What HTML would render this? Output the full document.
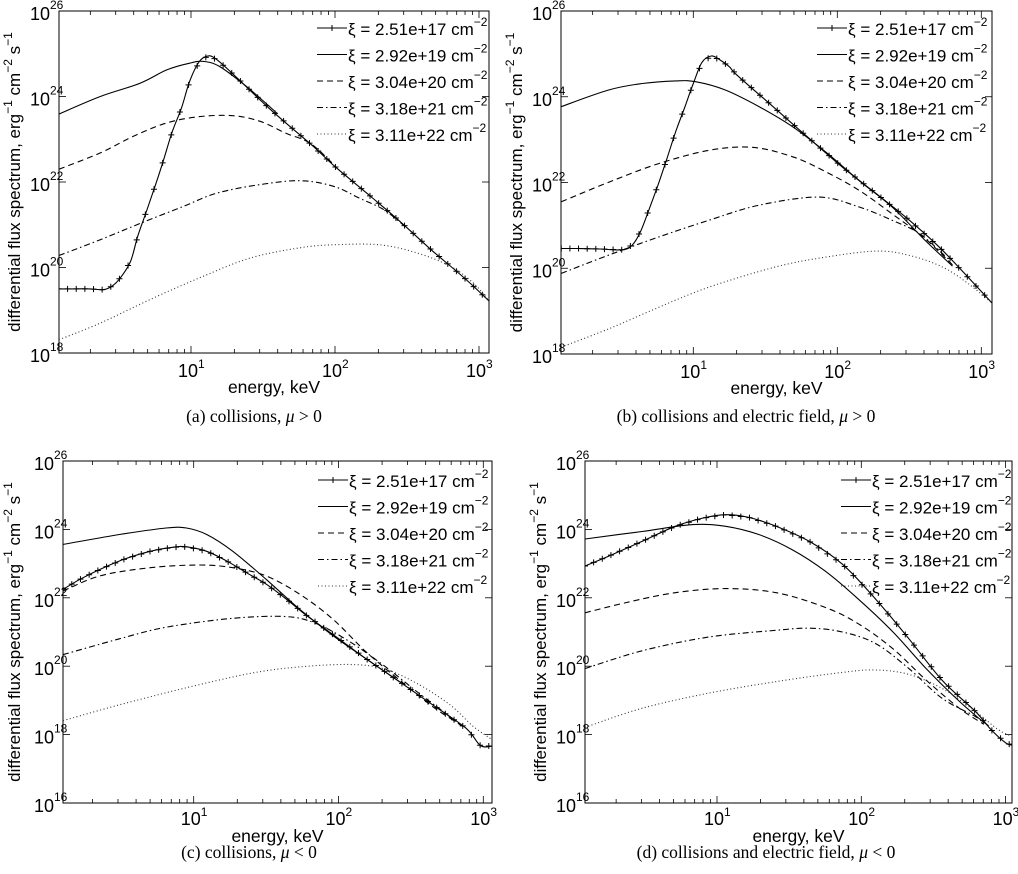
<!DOCTYPE html>
<html><head><meta charset="utf-8"><style>
html,body{margin:0;padding:0;background:#fff;}
svg{display:block;font-family:"Liberation Sans",sans-serif;}
.cap{font-family:"Liberation Serif",serif;font-size:17.5px;}
</style></head><body>
<svg id="fig" width="1018" height="874" viewBox="0 0 1018 874" xmlns="http://www.w3.org/2000/svg"></svg>
<script>
// ---- data: log10(energy keV) and log10(flux) ----
const legendLabels = ["2.51e+17","2.92e+19","3.04e+20","3.18e+21","3.11e+22"];
const xTickExps = [1,2,3];
const yTickExpsTop = [18,20,22,24,26];
const yTickExpsBottom = [16,18,20,22,24,26];
const captions = ["(a) collisions, ","(b) collisions and electric field, ","(c) collisions, ","(d) collisions and electric field, "];
const captionSigns = ["> 0","> 0","< 0","< 0"];

// panel a
const a1E=[0.083,0.2,0.3,0.39,0.45,0.51,0.58,0.63,0.69,0.75,0.81,0.87,0.935,0.99,1.058,1.12,1.18,1.3,1.55,1.85,2.0,2.22,2.45,2.68,2.91,3.077];
const a1F=[19.5,19.5,19.5,19.48,19.56,19.76,20.14,20.73,21.31,21.9,22.52,23.18,23.74,24.35,24.82,24.95,24.86,24.5,23.7,22.83,22.36,21.74,21.08,20.38,19.72,19.19];
const a2E=[0.083,0.37,0.646,0.83,0.99,1.086,1.2,1.39,1.6];
const a2F=[23.59,24.0,24.31,24.62,24.78,24.82,24.7,24.22,23.6];
const a3E=[0.083,0.37,0.6,0.83,1.06,1.29,1.48,1.66,1.83,2.0];
const a3F=[22.3,22.68,23.07,23.38,23.53,23.55,23.42,23.14,22.9,22.38];
const a4E=[0.083,0.37,0.646,0.947,1.18,1.48,1.76,1.99,2.17,2.34,2.5];
const a4F=[20.28,20.65,21.03,21.43,21.74,21.94,22.03,21.9,21.62,21.35,20.92];
const a5E=[0.083,0.37,0.715,1.06,1.41,1.757,1.99,2.31,2.57,2.8,2.96,3.077];
const a5F=[18.31,18.7,19.25,19.76,20.22,20.46,20.53,20.53,20.34,20.03,19.64,19.19];
// panel b
const b1E=[0.083,0.2,0.35,0.507,0.576,0.634,0.69,0.755,0.815,0.877,0.94,1.0,1.06,1.125,1.185,1.25,1.305,1.55,1.79,2.035,2.27,2.5,2.73,3.074];
const b1F=[20.46,20.46,20.45,20.43,20.54,20.86,21.35,21.94,22.54,23.18,23.75,24.31,24.8,24.95,24.86,24.7,24.5,23.78,23.07,22.36,21.74,21.12,20.42,19.19];
const b2E=[0.083,0.415,0.646,0.877,1.016,1.22,1.456,1.69,1.92,2.15,2.38,2.61,2.8];
const b2F=[23.77,24.16,24.31,24.37,24.35,24.16,23.77,23.3,22.71,22.05,21.43,20.65,20.05];
const b3E=[0.083,0.415,0.76,1.11,1.41,1.69,1.92,2.15,2.38,2.61,2.8];
const b3F=[21.55,22.01,22.44,22.75,22.82,22.6,22.25,21.82,21.27,20.69,20.08];
const b4E=[0.083,0.415,0.76,1.11,1.456,1.87,2.15,2.38,2.57,2.75];
const b4F=[19.88,20.31,20.73,21.12,21.47,21.66,21.43,21.12,20.81,20.28];
const b5E=[0.083,0.415,0.76,1.11,1.57,1.92,2.27,2.5,2.73,2.91,3.074];
const b5F=[18.16,18.59,19.09,19.56,20.03,20.26,20.4,20.3,20.03,19.64,19.19];
// panel c
const c1E=[0.098,0.215,0.353,0.514,0.7,0.86,0.95,1.09,1.23,1.366,1.5,1.64,1.78,1.97,2.19,2.42,2.65,2.88,2.98,3.058];
const c1F=[22.25,22.54,22.83,23.12,23.36,23.48,23.49,23.36,23.07,22.73,22.4,21.96,21.48,20.9,20.22,19.55,18.87,18.19,17.68,17.66];
const c2E=[0.098,0.487,0.81,0.95,1.09,1.27,1.5,1.73,1.96,2.19,2.42];
const c2F=[23.56,23.85,24.04,24.04,23.85,23.36,22.54,21.67,20.9,20.22,19.55];
const c3E=[0.098,0.353,0.7,1.04,1.27,1.5,1.73,1.96,2.19,2.42,2.65,2.8];
const c3F=[22.2,22.64,22.88,22.96,22.88,22.64,22.11,21.38,20.42,19.6,18.82,18.4];
const c4E=[0.098,0.487,0.81,1.27,1.64,1.85,2.08,2.31,2.54,2.72,2.85];
const c4F=[20.34,20.8,21.14,21.4,21.45,21.24,20.71,20.03,19.26,18.68,18.25];
const c5E=[0.098,0.487,0.93,1.39,1.73,2.08,2.31,2.54,2.77,2.93,3.058];
const c5F=[18.41,18.87,19.35,19.79,19.98,20.05,19.93,19.5,18.87,18.24,17.86];
// panel d
const d1E=[0.085,0.25,0.48,0.71,0.9,1.06,1.22,1.41,1.64,1.87,2.1,2.33,2.56,2.79,2.9,3.0,3.046];
const d1F=[22.93,23.22,23.65,24.09,24.33,24.43,24.35,24.09,23.65,22.98,21.96,20.8,19.59,18.68,18.14,17.76,17.69];
const d2E=[0.085,0.48,0.83,1.06,1.29,1.52,1.75,1.98,2.22,2.45,2.68,2.85];
const d2F=[23.72,23.94,24.14,24.09,23.85,23.41,22.78,21.96,21.0,19.93,18.97,18.35];
const d3E=[0.085,0.37,0.71,1.06,1.41,1.75,1.98,2.22,2.45,2.68,2.85];
const d3F=[21.56,21.86,22.15,22.27,22.15,21.72,21.24,20.51,19.59,18.77,18.3];
const d4E=[0.085,0.48,0.94,1.41,1.64,1.87,2.1,2.33,2.56,2.79,2.9];
const d4F=[19.93,20.45,20.85,21.05,21.11,21.0,20.66,19.93,19.06,18.53,18.2];
const d5E=[0.085,0.48,0.94,1.41,1.87,2.1,2.33,2.56,2.79,2.95,3.046];
const d5F=[18.21,18.77,19.21,19.55,19.82,19.89,19.76,19.35,18.68,18.14,17.95];

const NS="http://www.w3.org/2000/svg";
const svg=document.getElementById('fig');
function mk(tag,attrs,parent){const e=document.createElementNS(NS,tag);for(const k in attrs)e.setAttribute(k,attrs[k]);(parent||svg).appendChild(e);return e;}
const dashes=["","","6,4","6,3,1.5,3","1,2.5"];
const strokes=["#000","#000","#000","#000","#333"];

function smoothPath(pts){
  let d="M"+pts[0][0].toFixed(1)+","+pts[0][1].toFixed(1);
  for(let i=0;i<pts.length-1;i++){
    const p0=pts[Math.max(0,i-1)],p1=pts[i],p2=pts[i+1],p3=pts[Math.min(pts.length-1,i+2)];
    const c1=[p1[0]+(p2[0]-p0[0])/6,p1[1]+(p2[1]-p0[1])/6];
    const c2=[p2[0]-(p3[0]-p1[0])/6,p2[1]-(p3[1]-p1[1])/6];
    d+=" C"+c1[0].toFixed(1)+","+c1[1].toFixed(1)+" "+c2[0].toFixed(1)+","+c2[1].toFixed(1)+" "+p2[0].toFixed(1)+","+p2[1].toFixed(1);
  }
  return d;
}
function interp(E,F,x){
  for(let i=0;i<E.length-1;i++){if(x>=E[i]&&x<=E[i+1]){const t=(x-E[i])/(E[i+1]-E[i]);return F[i]+t*(F[i+1]-F[i]);}}
  return F[F.length-1];
}

function panel(id,cfg,series){
  const g=mk('g',{},svg);
  
  
  const X=l=>cfg.x10+(l-1)*cfg.pxDec;
  const Y=v=>cfg.bottom-(v-cfg.ymin)/(cfg.ymax-cfg.ymin)*(cfg.bottom-cfg.top);
  const W=cfg.right-cfg.left,H=cfg.bottom-cfg.top;
  const cp=mk('clipPath',{id:'clip'+id},g);
  mk('rect',{x:cfg.left,y:cfg.top,width:W,height:H},cp);
  for(let dec=0;dec<=3;dec++){for(let m=1;m<10;m++){
    const l=dec+Math.log10(m);const x=X(l);
    if(x<cfg.left-0.5||x>cfg.right+0.5)continue;
    const len=(m===1)?7:4;
    const t1=mk('line',{x1:x,x2:x,y1:cfg.bottom,y2:cfg.bottom-len,stroke:'#000','stroke-width':0.8},g);
    
    
    const t2=mk('line',{x1:x,x2:x,y1:cfg.top,y2:cfg.top+len,stroke:'#000','stroke-width':0.8},g);
    
    
  }}
  xTickExps.forEach(e=>{
    const x=X(e);
    const t=mk('text',{x:x-13,y:cfg.bottom+cfg.tickDy,'font-size':18},g);
    
    
    t.textContent='10';
    const s=mk('tspan',{dy:-9,'font-size':12},t);s.textContent=String(e);
  });
  cfg.yTicks.forEach(e=>{
    const y=Y(e);
    const a=mk('line',{x1:cfg.left,x2:cfg.left+7,y1:y,y2:y,stroke:'#000','stroke-width':0.8},g);
    
    
    const b=mk('line',{x1:cfg.right,x2:cfg.right-7,y1:y,y2:y,stroke:'#000','stroke-width':0.8},g);
    
    
    const t=mk('text',{x:cfg.left-9,y:y+9,'text-anchor':'end','font-size':18},g);
    
    
    t.textContent='10';
    const s=mk('text',{x:cfg.left-9,y:y-2,'font-size':12},g);
    
    
    s.textContent=String(e);
  });
  const fr=mk('rect',{x:cfg.left,y:cfg.top,width:W,height:H,fill:'none',stroke:'#000','stroke-width':1},g);
  
  
  const cg=mk('g',{'clip-path':'url(#clip'+id+')'},g);
  series.forEach((s,i)=>{
    const pts=s[0].map((l,k)=>[X(l),Y(s[1][k])]);
    const p=mk('path',{d:smoothPath(pts),fill:'none',stroke:strokes[i],'stroke-width':1.1,'stroke-dasharray':dashes[i]},cg);
    
    
    if(i===0){
      const E=s[0],F=s[1];
      for(let l=E[0];l<=E[E.length-1]+1e-6;l+=0.06){
        const x=X(l),y=Y(interp(E,F,l));
        const m=mk('path',{d:`M${x-3},${y}H${x+3}M${x},${y-3}V${y+3}`,stroke:'#000','stroke-width':1},cg);
        
        
      }
    }
  });
  legendLabels.forEach((lab,i)=>{
    const ly=cfg.legY+i*cfg.legDy;const lx=cfg.right-cfg.legR;
    const ln=mk('line',{x1:lx-30,x2:lx,y1:ly,y2:ly,stroke:strokes[i],'stroke-width':1.1,'stroke-dasharray':dashes[i]},g);
    
    
    if(i===0){const m=mk('path',{d:`M${lx-18},${ly}h6M${lx-15},${ly-3}v6`,stroke:'#000'},g);
      
      }
    const t=mk('text',{x:lx+1,y:ly+7,'font-size':17},g);
    
    
    t.textContent='ξ = '+lab+' cm';
    const s=mk('tspan',{dy:-9,'font-size':12},t);s.textContent='−2';
  });
  const xt=mk('text',{x:(cfg.left+cfg.right)/2,y:cfg.bottom+cfg.titleDy,'text-anchor':'middle','font-size':17.5},g);
  
  
  xt.textContent='energy, keV';
  const cy=(cfg.top+cfg.bottom)/2;
  const yt=mk('text',{x:0,y:0,'text-anchor':'middle','font-size':17,transform:`translate(${cfg.ylabX},${cy}) rotate(-90)`},g);
  
  
  yt.textContent='differential flux spectrum, erg';
  [['−1',' cm'],['−2',' s'],['−1','']].forEach(p=>{const a=mk('tspan',{dy:-8,'font-size':12},yt);a.textContent=p[0];
    if(p[1]){const b=mk('tspan',{dy:8},yt);b.textContent=p[1];}});
  const c=mk('text',{x:cfg.capX,y:cfg.capY,'text-anchor':'middle',class:'cap'},g);
  
  
  c.textContent=captions[cfg.idx];
  const mu=mk('tspan',{'font-style':'italic'},c);mu.textContent='μ';
  const r=mk('tspan',{},c);r.textContent=' '+captionSigns[cfg.idx];
}

panel('a',{idx:0,left:59,right:489,top:11,bottom:353,ymin:18,ymax:26,x10:191,pxDec:144,yTicks:yTickExpsTop,legY:28,legDy:26.5,legR:142,ylabX:20,capX:254,capY:422,tickDy:24,titleDy:40},
  [[a1E,a1F],[a2E,a2F],[a3E,a3F],[a4E,a4F],[a5E,a5F]]);
panel('b',{idx:1,left:561,right:992,top:11,bottom:354,ymin:18,ymax:26,x10:693.3,pxDec:144,yTicks:yTickExpsTop,legY:28,legDy:26.5,legR:145,ylabX:522,capX:746,capY:422,tickDy:24,titleDy:40},
  [[b1E,b1F],[b2E,b2F],[b3E,b3F],[b4E,b4F],[b5E,b5F]]);
panel('c',{idx:2,left:63,right:492,top:461,bottom:803,ymin:16,ymax:26,x10:193.7,pxDec:144.8,yTicks:yTickExpsBottom,legY:480,legDy:26.5,legR:144,ylabX:20,capX:249,capY:858,tickDy:22,titleDy:39},
  [[c1E,c1F],[c2E,c2F],[c3E,c3F],[c4E,c4F],[c5E,c5F]]);
panel('d',{idx:3,left:585,right:1012,top:461,bottom:803,ymin:16,ymax:26,x10:717,pxDec:144.3,yTicks:yTickExpsBottom,legY:480,legDy:26.5,legR:141,ylabX:546,capX:766,capY:858,tickDy:22,titleDy:39},
  [[d1E,d1F],[d2E,d2F],[d3E,d3F],[d4E,d4F],[d5E,d5F]]);
</script>
</body></html>
